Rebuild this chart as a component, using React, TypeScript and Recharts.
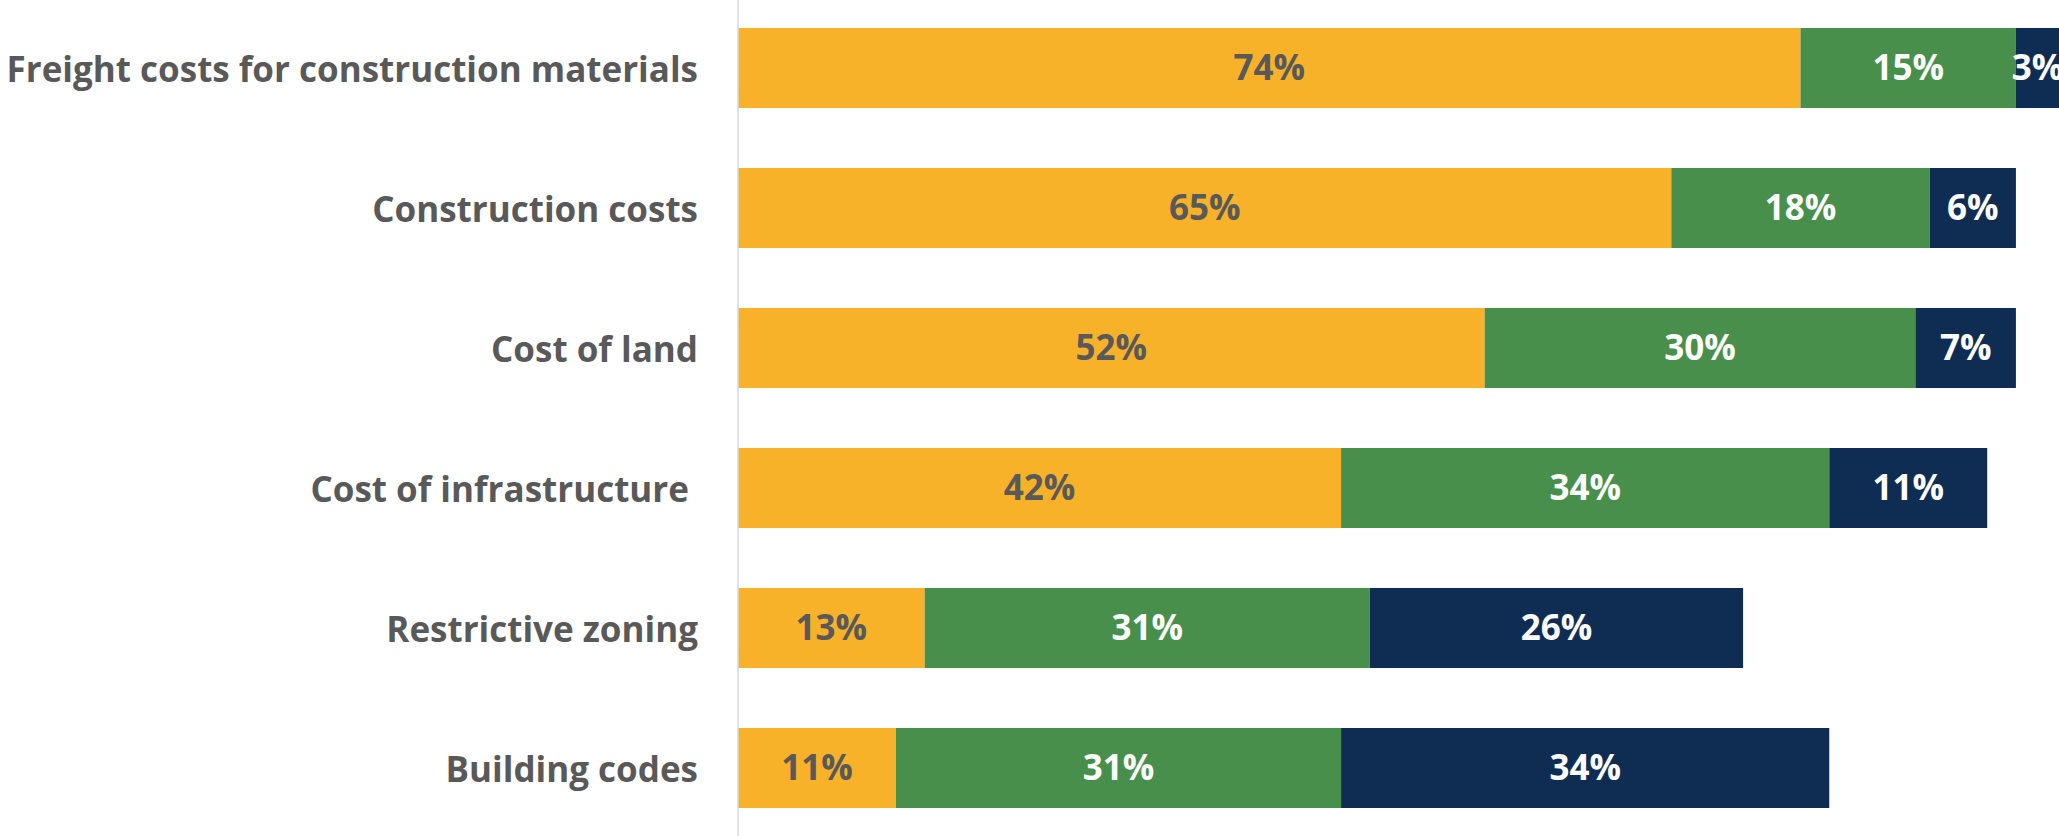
import React from 'react';
import { BarChart, Bar, XAxis, YAxis, LabelList } from 'recharts';

// Survey categories, top to bottom
const categories = [
  'Freight costs for construction materials',
  'Construction costs',
  'Cost of land',
  'Cost of infrastructure ',
  'Restrictive zoning',
  'Building codes',
];

// Share of respondents per category (percent)
const majorValues = [74, 65, 52, 42, 13, 11];
const moderateValues = [15, 18, 30, 34, 31, 31];
const minorValues = [3, 6, 7, 11, 26, 34];

const chartData = categories.map((name, i) => ({
  name,
  major: majorValues[i],
  moderate: moderateValues[i],
  minor: minorValues[i],
}));

const FONT = '"Open Sans", Lato, sans-serif';
const GRAY = '#595959';

const CategoryTick = (props: any) => {
  const { x, y, payload } = props;
  return (
    <text
      x={x - 32}
      y={y}
      textAnchor="end"
      dominantBaseline="central"
      fill={GRAY}
      fontFamily={FONT}
      fontWeight={700}
      fontSize={35}
      style={{ whiteSpace: 'pre' }}
    >
      {payload.value}
    </text>
  );
};

const pct = (v: any) => `${v}%`;

const labelStyle = { fontFamily: FONT, fontWeight: 700, fontSize: 35 };

const App: React.FC = () => {
  return (
    <div style={{ position: 'absolute', left: 0, top: 0, width: 2059, height: 836, overflow: 'hidden', background: '#fff' }}>
      <div style={{ position: 'absolute', left: 0, top: -2 }}>
        <BarChart
          width={2059}
          height={840}
          data={chartData}
          layout="vertical"
          margin={{ top: 0, right: 0, left: 0, bottom: 0 }}
        >
          <XAxis type="number" domain={[0, 92]} hide allowDataOverflow />
          <YAxis
            type="category"
            dataKey="name"
            width={738}
            tickLine={false}
            axisLine={{ stroke: '#d9d9d9', strokeWidth: 1.5 }}
            tick={<CategoryTick />}
            interval={0}
          />
          <Bar dataKey="major" stackId="a" fill="#F7B22A" barSize={80} isAnimationActive={false}>
            <LabelList dataKey="major" position="center" formatter={pct} fill={GRAY} style={labelStyle} />
          </Bar>
          <Bar dataKey="moderate" stackId="a" fill="#478F4A" barSize={80} isAnimationActive={false}>
            <LabelList dataKey="moderate" position="center" formatter={pct} fill="#ffffff" style={labelStyle} />
          </Bar>
          <Bar dataKey="minor" stackId="a" fill="#0F2D52" barSize={80} isAnimationActive={false}>
            <LabelList dataKey="minor" position="center" formatter={pct} fill="#ffffff" style={labelStyle} />
          </Bar>
        </BarChart>
      </div>
    </div>
  );
};

export default App;
